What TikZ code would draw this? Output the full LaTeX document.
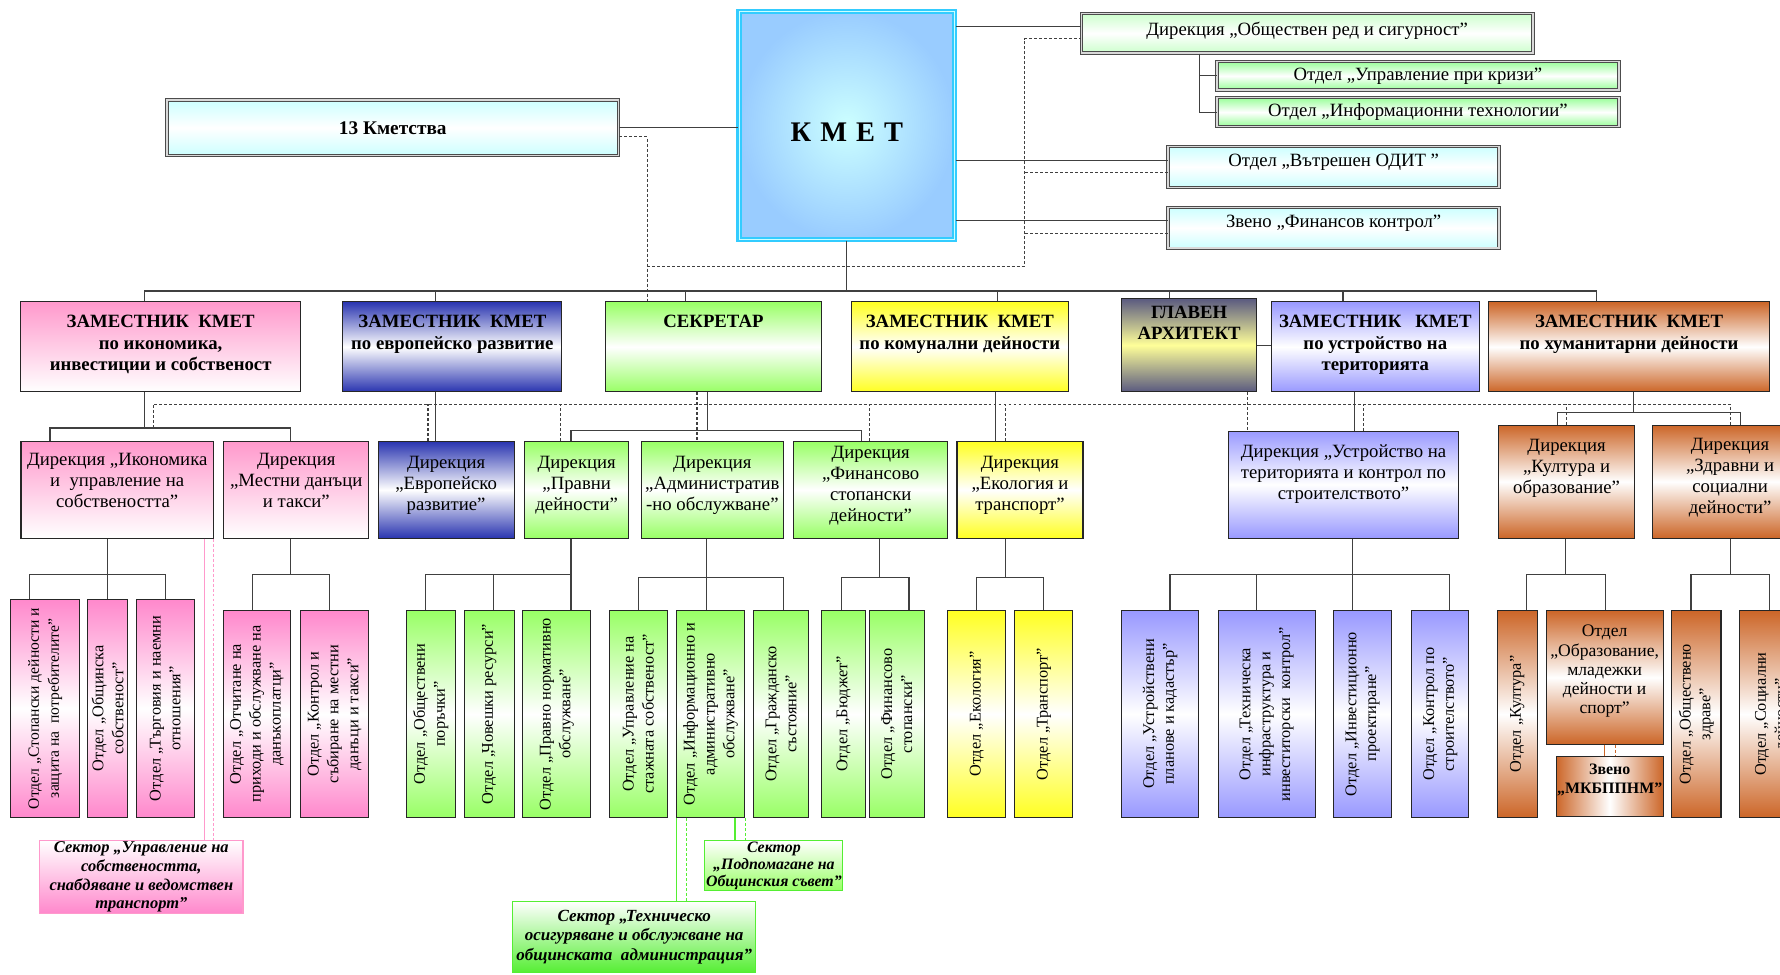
\documentclass[tikz,border=0pt]{standalone}
\usepackage{fontspec}
\setmainfont{Liberation Serif}
\usetikzlibrary{positioning}

\definecolor{pinkA}{HTML}{FF99CC}
\definecolor{pinkB}{HTML}{FF88CC}
\definecolor{blueA}{HTML}{2A35B0}
\definecolor{greenA}{HTML}{99FF66}
\definecolor{greenB}{HTML}{55EE33}
\definecolor{yelA}{HTML}{FFFF22}
\definecolor{slateA}{HTML}{5A5A80}
\definecolor{paleY}{HTML}{FFFF99}
\definecolor{lavA}{HTML}{9999FF}
\definecolor{brA}{HTML}{CC6628}
\definecolor{cyanA}{HTML}{33CCFF}
\definecolor{cyanL}{HTML}{CCFFFF}
\definecolor{skyA}{HTML}{99CCFF}
\definecolor{mintA}{HTML}{CCFFCC}
\definecolor{mintB}{HTML}{99FF99}

\tikzset{
  box/.style={draw=black!85, line width=0.9pt, inner sep=1pt, align=center,
    font=\fontsize{16.5}{18.5}\selectfont},
  dbl/.style={box, draw=black!70, line width=0.8pt, double=black!15, double distance=1.4pt},
  wh/.style 2 args={minimum width=#1, minimum height=#2},
  raise/.style={text depth=#1},
  ttl/.style={align=center, inner sep=0pt, font=\fontsize{16.5}{18.8}\selectfont\bfseries},
  vtxt/.style={rotate=90, align=center, inner sep=0pt, font=\fontsize{14.4}{17.5}\selectfont},
  sect/.style={box, line width=1pt, font=\fontsize{14.5}{16.5}\selectfont\bfseries\itshape},
  sh/.style={top color=#1, bottom color=#1, middle color=white},
  fadeto/.style={top color=#1, bottom color=white},
  conn/.style={draw=black!75, line width=1pt},
  dsh/.style={dash pattern=on 2.6pt off 1.8pt},
  dconn/.style={conn, dsh},
  pconn/.style={draw=pinkA, line width=1pt},
  gconn/.style={draw=greenB, line width=1pt},
  bconn/.style={draw=brA, line width=1pt}
}

\begin{document}
\begin{tikzpicture}[x=1pt, y=-1pt]
\useasboundingbox (0,0) rectangle (1568,858);
\clip (0,0) rectangle (1568,858);

% mayor and top boxes
\node[box, draw=cyanA, line width=2pt, double=cyanL, double distance=0.8pt, inner color=cyanL, outer color=skyA, wh={190}{201}, font=\fontsize{25}{28}\selectfont\bfseries, text height=28pt] (kmet) at (746,110.5) {К\hspace{8pt}М\hspace{8pt}Е\hspace{8pt}Т};
\node[dbl, sh=cyanL, wh={398}{49}, font=\fontsize{17}{20}\selectfont\bfseries] (kmetstva) at (346,112.5) {13 Кметства};
\node[dbl, sh=mintA, wh={398}{35}, raise=8pt] (red) at (1151.5,29.3) {Дирекция „Обществен ред и сигурност”};
\node[dbl, sh=mintB, wh={354}{25}] (krizi) at (1249,66.8) {Отдел „Управление при кризи”};
\node[dbl, sh=mintB, wh={354}{25.6}] (it) at (1249,98.8) {Отдел „Информационни технологии”};
\node[dbl, sh=cyanL, wh={291.5}{36}, raise=12pt] (odit) at (1174.8,147) {Отдел „Вътрешен ОДИТ ”};
\node[dbl, sh=cyanL, wh={291.5}{36}, raise=12pt] (fk) at (1174.8,200.7) {Звено „Финансов контрол”};

% deputies
\node[box, fadeto=pinkA, wh={247}{79}] (zam1) at (141.5,305.5) {};
\node[ttl, below=12pt of zam1.north] (zam1t) {ЗАМЕСТНИК\ \ КМЕТ\\по икономика,\\инвестиции и собственост};
\node[box, sh=blueA, wh={193}{79}] (zam2) at (398.5,305.5) {};
\node[ttl, below=12pt of zam2.north] (zam2t) {ЗАМЕСТНИК\ \ КМЕТ\\по европейско развитие};
\node[box, sh=greenA, wh={191}{79}] (sek) at (628.5,305.5) {};
\node[ttl, below=12pt of sek.north] (sekt) {СЕКРЕТАР};
\node[box, sh=yelA, wh={191}{79}] (zam3) at (845.5,305.5) {};
\node[ttl, below=12pt of zam3.north] (zam3t) {ЗАМЕСТНИК\ \ КМЕТ\\по комунални дейности};
\node[box, top color=slateA, bottom color=slateA, middle color=paleY, wh={119}{82}] (arch) at (1047.5,304) {};
\node[ttl, below=7pt of arch.north] (archt) {ГЛАВЕН\\АРХИТЕКТ};
\node[box, sh=lavA, wh={183}{79}] (zam4) at (1211.5,305.5) {};
\node[ttl, below=12pt of zam4.north] (zam4t) {ЗАМЕСТНИК\ \ \ КМЕТ\\по устройство на\\територията};
\node[box, sh=brA, wh={248}{79}] (zam5) at (1435,305.5) {};
\node[ttl, below=12pt of zam5.north] (zam5t) {ЗАМЕСТНИК\ \ КМЕТ\\по хуманитарни дейности};

% directorates
\node[box, fadeto=pinkA, wh={169.5}{85}, raise=16pt] (d1) at (103.25,431.5) {Дирекция „Икономика\\и\ \ управление на\\собствеността”};
\node[box, fadeto=pinkA, wh={128}{85}, raise=16pt] (d2) at (261,431.5) {Дирекция\\„Местни данъци\\и такси”};
\node[box, sh=blueA, wh={120}{85}, raise=12pt] (d3) at (393,431.5) {Дирекция\\„Европейско\\развитие”};
\node[box, sh=greenA, wh={92}{85}, raise=12pt] (d4) at (508,431.5) {Дирекция\\„Правни\\дейности”};
\node[box, sh=greenA, wh={125}{85}, raise=12pt] (d5) at (627.5,431.5) {Дирекция\\„Административ\\-но обслужване”};
\node[box, sh=greenA, wh={136}{85}, raise=10pt] (d6) at (767,431.5) {Дирекция\\„Финансово\\стопански\\дейности”};
\node[box, sh=yelA, wh={111}{85}, raise=12pt] (d7) at (898.5,431.5) {Дирекция\\„Екология и\\транспорт”};
\node[box, sh=lavA, wh={203}{94.3}, raise=22pt] (d8) at (1183.5,426.85) {Дирекция „Устройство на\\територията и контрол по\\строителството”};
\node[box, sh=brA, wh={120}{99.5}, raise=26pt] (d9) at (1380,424.25) {Дирекция\\„Култура и\\образование”};
\node[box, sh=brA, wh={136}{99.5}, raise=10pt] (d10) at (1524,424.25) {Дирекция\\„Здравни и\\социални\\дейности”};

% departments
\node[box, sh=pinkB, wh={60.5}{192}, label={[vtxt, font=\fontsize{13.8}{17.5}\selectfont]center:{Отдел „Стопански дейности и\\защита на\ \ потребителите”}}] (o1) at (39.75,624) {};
\node[box, sh=pinkB, wh={34.5}{192}, label={[vtxt]center:{Отдел „Общинска\\собственост”}}] (o2) at (94.75,624) {};
\node[box, sh=pinkB, wh={51}{192}, label={[vtxt]center:{Отдел „Търговия и наемни\\отношения”}}] (o3) at (145.5,624) {};
\node[box, sh=pinkB, wh={59.4}{182}, label={[vtxt]center:{Отдел „Отчитане на\\приходи и обслужване на\\данъкоплатци”}}] (o4) at (226.3,629) {};
\node[box, sh=pinkB, wh={59.5}{182}, label={[vtxt]center:{Отдел „Контрол и\\събиране на местни\\данъци и такси”}}] (o5) at (294.75,629) {};
\node[box, sh=greenA, wh={43}{182}, label={[vtxt]center:{Отдел „Обществени\\поръчки”}}] (o6) at (379.5,629) {};
\node[box, sh=greenA, wh={44}{182}, label={[vtxt]center:{Отдел „Човешки ресурси”}}] (o7) at (431,629) {};
\node[box, sh=greenA, wh={60}{182}, label={[vtxt]center:{Отдел „Правно нормативно\\обслужване”}}] (o8) at (490.5,629) {};
\node[box, sh=greenA, wh={51.4}{182}, label={[vtxt]center:{Отдел „Управление на\\стажната собственост”}}] (o9) at (562.3,629) {};
\node[box, sh=greenA, wh={60}{182}, label={[vtxt]center:{Отдел „Информационно и\\административно\\обслужване”}}] (o10) at (626,629) {};
\node[box, sh=greenA, wh={48}{182}, label={[vtxt]center:{Отдел „Гражданско\\състояние”}}] (o11) at (688,629) {};
\node[box, sh=greenA, wh={38}{182}, label={[vtxt]center:{Отдел „Бюджет”}}] (o12) at (743,629) {};
\node[box, sh=greenA, wh={48}{182}, label={[vtxt]center:{Отдел „Финансово\\стопански”}}] (o13) at (790,629) {};
\node[box, sh=yelA, wh={51}{182}, label={[vtxt]center:{Отдел „Екология”}}] (o14) at (860.5,629) {};
\node[box, sh=yelA, wh={51}{182}, label={[vtxt]center:{Отдел „Транспорт”}}] (o15) at (919.5,629) {};
\node[box, sh=lavA, wh={68}{182}, label={[vtxt]center:{Отдел „Устройствени\\планове и кадастър”}}] (o16) at (1022,629) {};
\node[box, sh=lavA, wh={85.5}{182}, label={[vtxt]center:{Отдел „Техническа\\инфраструктура и\\инвеститорски\ \ контрол”}}] (o17) at (1115.75,629) {};
\node[box, sh=lavA, wh={51.5}{182}, label={[vtxt]center:{Отдел „Инвестиционно\\проектиране”}}] (o18) at (1200.25,629) {};
\node[box, sh=lavA, wh={50.5}{182}, label={[vtxt]center:{Отдел „Контрол по\\строителството”}}] (o19) at (1268.75,629) {};
\node[box, sh=brA, wh={35}{182}, label={[vtxt]center:{Отдел „Култура”}}] (o20) at (1336.5,629) {};
\node[box, sh=brA, wh={103}{117.5}, font=\fontsize{15.5}{17}\selectfont, raise=14pt] (o21) at (1413.5,596.75) {Отдел\\„Образование,\\младежки\\дейности и\\спорт”};
\node[box, left color=brA, right color=brA, middle color=white, wh={94}{53}, font=\fontsize{14}{16}\selectfont\bfseries, raise=14pt] (z1) at (1418,693) {Звено\\„МКБППНМ”};
\node[box, sh=brA, wh={43.4}{182}, label={[vtxt]center:{Отдел „Обществено\\здраве”}}] (o22) at (1494.3,629) {};
\node[box, sh=brA, wh={58}{182}, label={[vtxt]center:{Отдел „Социални\\дейности”}}] (o23) at (1561,629) {};

% sectors
\node[sect, draw=pinkA, top color=white, bottom color=pinkB, wh={179}{63}] (s1) at (124.5,772.5) {Сектор „Управление на\\собствеността,\\снабдяване и ведомствен\\транспорт”};
\node[sect, draw=greenB, top color=white, bottom color=greenA, wh={119.4}{43}, font=\fontsize{14}{15}\selectfont\bfseries\itshape] (s2) at (681.7,762.5) {Сектор\\„Подпомагане на\\Общинския съвет”};
\node[sect, draw=greenB, top color=white, bottom color=greenB, wh={214}{63}, font=\fontsize{15}{17}\selectfont\bfseries\itshape] (s3) at (558.65,825.5) {Сектор „Техническо\\осигуряване и обслужване на\\общинската\ \ администрация”};

% mayor links
\coordinate (k1) at ([yshift=87pt]kmet.east);
\coordinate (k2) at ([yshift=-31pt]kmet.east);
\coordinate (k3) at ([yshift=-84pt]kmet.east);
\draw[conn] (k1) -- (k1 -| red.west);
\draw[conn] (k2) -- (k2 -| odit.west);
\draw[conn] (k3) -- (k3 -| fk.west);
\draw[conn] (kmetstva.east) -- (kmetstva.east -| kmet.west);
\coordinate (r1) at ([xshift=-95pt]red.south);
\draw[conn] (r1) |- (it.west);
\draw[conn] (r1 |- krizi.west) -- (krizi.west);

% dashed links of the top
\coordinate (dv) at (570,234.4);
\coordinate (dr) at (902.6,234.4);
\coordinate (kd) at ([yshift=-8pt]kmetstva.east);
\coordinate (od) at ([yshift=-5pt]odit.west);
\coordinate (fd) at ([yshift=-5pt]fk.west);
\draw[dconn] (kd) -| (dv |- sek.north);
\draw[dconn] (dv) -- (dr) |- ([yshift=-5pt]red.west);
\draw[dconn] (od) -- (od -| dr);
\draw[dconn] (fd) -- (fd -| dr);

% main bus
\coordinate (bus) at (746,256.4);
\draw[conn] (kmet.south) -- (bus);
\draw[conn] ([xshift=-14.5pt]zam1.north) |- (bus);
\draw[conn] ([xshift=-14.5pt]zam2.north) |- (bus);
\draw[conn] ([xshift=-24.5pt]sek.north) |- (bus);
\draw[conn] ([xshift=33.5pt]zam3.north) |- (bus);
\draw[conn] ([xshift=-17.5pt]arch.north) |- (bus);
\draw[conn] ([xshift=-28.5pt]zam4.north) |- (bus);
\draw[conn] ([xshift=-29pt]zam5.north) |- (bus);

% deputies to directorates
\coordinate (sb1) at (127,377);
\coordinate (sb2) at (623,379);
\coordinate (sb3) at (1439,363);
\draw[conn] ([xshift=-14.5pt]zam1.south) -- (sb1);
\draw[conn] ([xshift=-59.25pt]d1.north) |- (sb1) -| ([xshift=-5pt]d2.north);
\draw[conn] ([xshift=-14.5pt]zam2.south) -- ([xshift=-14.5pt]zam2.south |- d3.north);
\draw[conn] ([xshift=-5.5pt]sek.south) -- (sb2);
\draw[conn] ([xshift=-5pt]d4.north) |- (sb2) -| ([xshift=-8pt]d6.north);
\draw[conn] ([xshift=31.5pt]zam3.south) -- ([xshift=31.5pt]zam3.south |- d7.north);
\draw[conn] (arch.east) -- (arch.east -| zam4.west);
\draw[conn] ([xshift=-18.5pt]zam4.south) -- ([xshift=-18.5pt]zam4.south |- d8.north);
\draw[conn] ([xshift=4pt]zam5.south) -- (sb3);
\draw[conn] ([xshift=-8pt]d9.north) |- (sb3) -| ([xshift=9pt]d10.north);

% dashed bus
\coordinate (dL) at (135,377);
\coordinate (dR) at (1524,356);
\draw[dconn] (dL) |- (dR) -- (dR |- d10.north);
\draw[dconn] ([xshift=-14.5pt]sek.south) -- ([xshift=-14.5pt]sek.south |- d5.north);
\draw[dconn] ([xshift=-16pt]d3.north) -- ([xshift=-16pt]d3.north |- dR);
\draw[dconn] ([xshift=-14pt]d4.north) -- ([xshift=-14pt]d4.north |- dR);
\draw[dconn] ([xshift=-1pt]d6.north) -- ([xshift=-1pt]d6.north |- dR);
\draw[dconn] ([xshift=-12.5pt]d7.north) -- ([xshift=-12.5pt]d7.north |- dR);
\draw[dconn] ([xshift=17.5pt]d8.north) -- ([xshift=17.5pt]d8.north |- dR);
\draw[dconn] (d9.north) -- (d9.north |- dR);
\draw[dconn] ([xshift=51.5pt]arch.south) -- ([xshift=51.5pt]arch.south |- d8.north);

% directorates to departments
\coordinate (t1) at (94.5,506);
\coordinate (t2) at (256,506);
\coordinate (t3) at (503,506);
\coordinate (t4) at (622,509);
\coordinate (t5) at (775,509);
\coordinate (t6) at (886,509);
\coordinate (t7) at (1191.6,506);
\coordinate (t8) at (1379,506);
\coordinate (t9) at (1524,506);
\draw[conn] ([xshift=-8.75pt]d1.south) -- ([xshift=-8.75pt]d1.south |- o2.north);
\draw[conn] ([xshift=-13.75pt]o1.north) |- (t1) -| ([xshift=0.5pt]o3.north);
\draw[conn] ([xshift=-5pt]d2.south) -- (t2);
\draw[conn] ([xshift=-3.8pt]o4.north) |- (t2) -| ([xshift=-4.25pt]o5.north);
\draw[conn] ([xshift=-5pt]d4.south) -- ([xshift=-5pt]d4.south |- o8.north);
\draw[conn] ([xshift=-4.5pt]o6.north) |- (t3);
\draw[conn] ([xshift=4pt]o7.north) -- ([xshift=4pt]o7.north |- t3);
\draw[conn] ([xshift=-5.5pt]d5.south) -- ([xshift=-5.5pt]d5.south |- o10.north);
\draw[conn] (o9.north) |- (t4) -| ([xshift=2pt]o11.north);
\draw[conn] ([xshift=8pt]d6.south) -- (t5);
\draw[conn] ([xshift=-1.6pt]o12.north) |- (t5) -| ([xshift=10.7pt]o13.north);
\draw[conn] ([xshift=-12.5pt]d7.south) -- (t6);
\draw[conn] (o14.north) |- (t6) -| (o15.north);
\draw[conn] ([xshift=8pt]d8.south) -- ([xshift=8pt]d8.south |- o18.north);
\draw[conn] ([xshift=8.6pt]o16.north) |- (t7) -| ([xshift=8.25pt]o19.north);
\draw[conn] ([xshift=-8.75pt]o17.north) -- ([xshift=-8.75pt]o17.north |- t7);
\draw[conn] ([xshift=-1pt]d9.south) -- (t8);
\draw[conn] ([xshift=8.5pt]o20.north) |- (t8) -| ([xshift=0.5pt]o21.north);
\draw[conn] (d10.south) -- (t9);
\draw[conn] ([xshift=-4.7pt]o22.north) |- (t9) -| ([xshift=-2.4pt]o23.north);

% sectors
\draw[pconn] ([xshift=77.25pt]d1.south) -- ([xshift=77.25pt]d1.south |- s1.north);
\draw[pconn, dsh] (d1.south east) -- (d1.south east |- s1.north);
\draw[gconn] (o10.south west) -- (o10.south west |- s3.north);
\draw[gconn, dsh] ([xshift=-21pt]o10.south) -- ([xshift=-21pt]o10.south |- s3.north);
\draw[gconn] ([xshift=21.5pt]o10.south) -- ([xshift=21.5pt]o10.south |- s2.north);
\draw[gconn, dsh] (o10.south east) -- (o10.south east |- s2.north);
\draw[bconn] (o21.south) -- (o21.south |- z1.north);
\draw[bconn, dsh] ([xshift=9.5pt]o21.south) -- ([xshift=9.5pt]o21.south |- z1.north);
\end{tikzpicture}
\end{document}
